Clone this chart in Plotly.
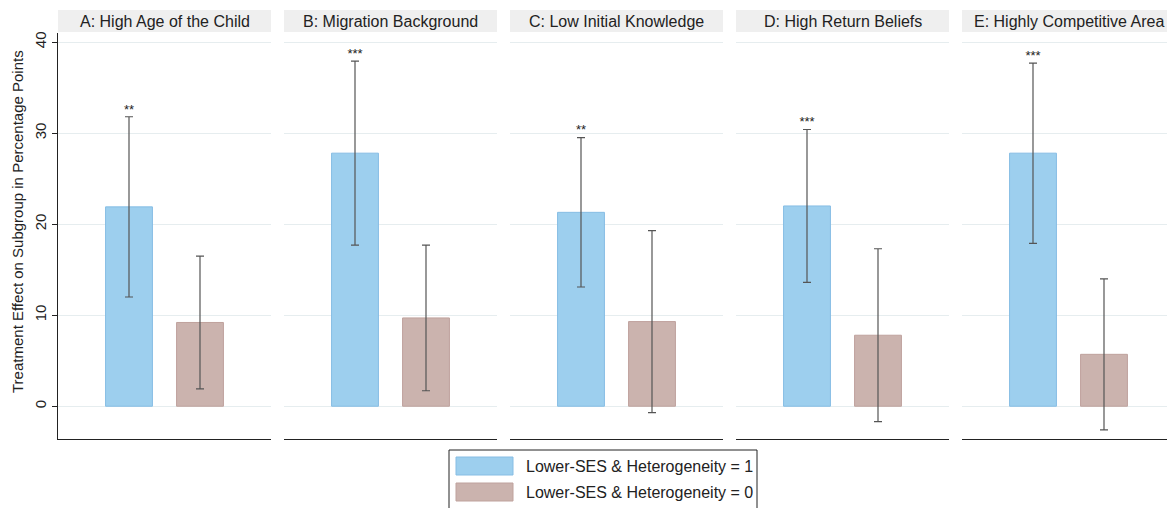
import plotly.graph_objects as go

panels = ["A: High Age of the Child", "B: Migration Background", "C: Low Initial Knowledge",
          "D: High Return Beliefs", "E: Highly Competitive Area"]
stars = ["**", "***", "**", "***", "***"]
series_names = ["Lower-SES & Heterogeneity = 1", "Lower-SES & Heterogeneity = 0"]

het1_est = [21.9, 27.8, 21.3, 22.0, 27.8]
het1_lo = [12.0, 17.7, 13.1, 13.6, 17.9]
het1_hi = [31.8, 37.9, 29.5, 30.4, 37.7]

het0_est = [9.2, 9.7, 9.3, 7.8, 5.7]
het0_lo = [1.9, 1.7, -0.7, -1.7, -2.6]
het0_hi = [16.5, 17.7, 19.3, 17.3, 14.0]

yticks = [0, 10, 20, 30, 40]
ytitle = "Treatment Effect on Subgroup in Percentage Points"

col1_fill, col1_line = "#9dcfee", "#86bde4"
col0_fill, col0_line = "#cbb3ae", "#bfa29d"
font = "Liberation Sans, Arial, sans-serif"
txt = "#222222"

# page offset (browser body margin)
OFF = 8
PAGE_W, PAGE_H = 1175, 508
W, H = PAGE_W - OFF, PAGE_H - OFF
plot_left, plot_right, plot_top, plot_bottom = 58, 1175, 33, 439  # page pixels
ml, mr, mt = plot_left - OFF, PAGE_W - plot_right, plot_top - OFF
mb = H - (plot_bottom - OFF)
pw = plot_right - plot_left
ph = plot_bottom - plot_top
panel_w = 213
gap = (pw - 5 * panel_w) / 4


def px_x(px):
    return (px - plot_left) / pw


def px_y(py):
    return (plot_bottom - py) / ph


fig = go.Figure()
shapes = []
annotations = []

for i, name in enumerate(panels):
    n = i + 1
    xa = "x" if n == 1 else f"x{n}"
    ya = "y" if n == 1 else f"y{n}"
    x0 = i * (panel_w + gap) / pw
    x1 = x0 + panel_w / pw
    for k, (est, lo, hi, fill, line) in enumerate([
            (het1_est, het1_lo, het1_hi, col1_fill, col1_line),
            (het0_est, het0_lo, het0_hi, col0_fill, col0_line)]):
        fig.add_trace(go.Bar(
            x=[k], y=[est[i]], xaxis=xa, yaxis=ya, width=0.66,
            marker=dict(color=fill, line=dict(color=line, width=1)),
            error_y=dict(type="data", symmetric=False,
                         array=[hi[i] - est[i]], arrayminus=[est[i] - lo[i]],
                         color="#555555", thickness=1.2, width=4),
            showlegend=False, hoverinfo="skip"))
    fig.add_trace(go.Scatter(
        x=[0], y=[het1_hi[i]], xaxis=xa, yaxis=ya, mode="text",
        text=[stars[i]], textposition="top center",
        textfont=dict(size=13, color=txt, family=font),
        showlegend=False, hoverinfo="skip"))

    axkey_x = "xaxis" if n == 1 else f"xaxis{n}"
    axkey_y = "yaxis" if n == 1 else f"yaxis{n}"
    fig.layout[axkey_x] = dict(domain=[x0, x1], range=[-1, 2], showgrid=False,
                               zeroline=False, showticklabels=False, ticks="",
                               showline=True, linecolor=txt, linewidth=1.3,
                               fixedrange=True, anchor=ya, automargin=False)
    ydict = dict(domain=[0, 1], range=[-3.6, 41.0], tickvals=yticks,
                 showgrid=True, gridcolor="#e6edef", gridwidth=1,
                 zeroline=False, anchor=xa, fixedrange=True, automargin=False)
    if n == 1:
        ydict.update(showline=True, linecolor=txt, linewidth=1.3,
                     ticks="outside", ticklen=5, tickcolor=txt,
                     tickangle=-90, tickfont=dict(size=15, color=txt, family=font))
    else:
        ydict.update(showline=False, showticklabels=False, ticks="")
    fig.layout[axkey_y] = ydict

    # header strip
    shapes.append(dict(type="rect", xref="paper", yref="paper",
                       x0=x0, x1=x1, y0=px_y(32), y1=px_y(10),
                       fillcolor="#efefef", line=dict(width=0), layer="below"))
    annotations.append(dict(text=name, xref="paper", yref="paper",
                            x=(x0 + x1) / 2, y=px_y(21), xanchor="center", yanchor="middle",
                            showarrow=False, font=dict(size=16, color=txt, family=font)))

# y-axis title
annotations.append(dict(text=ytitle, xref="paper", yref="paper",
                        x=px_x(17), y=px_y(222), xanchor="center", yanchor="middle",
                        textangle=-90, showarrow=False,
                        font=dict(size=15, color=txt, family=font)))

# legend (drawn as a boxed key)
shapes.append(dict(type="rect", xref="paper", yref="paper",
                   x0=px_x(449), x1=px_x(757), y0=px_y(450), y1=px_y(530),
                   fillcolor="white", line=dict(color=txt, width=1)))
for j, (name, fill, line) in enumerate(zip(series_names, [col1_fill, col0_fill], [col1_line, col0_line])):
    top = 457 + j * 26
    shapes.append(dict(type="rect", xref="paper", yref="paper",
                       x0=px_x(456), x1=px_x(513), y0=px_y(top), y1=px_y(top + 18),
                       fillcolor=fill, line=dict(color=line, width=1)))
    annotations.append(dict(text=name, xref="paper", yref="paper",
                            x=px_x(524), y=px_y(top + 9), xanchor="left", yanchor="middle",
                            showarrow=False, font=dict(size=16, color=txt, family=font)))

fig.update_layout(width=W, height=H, margin=dict(l=ml, r=mr, t=mt, b=mb, autoexpand=False),
                  paper_bgcolor="white", plot_bgcolor="white",
                  shapes=shapes, annotations=annotations, barmode="group",
                  font=dict(family=font, color=txt))

fig.write_html("out.html")
